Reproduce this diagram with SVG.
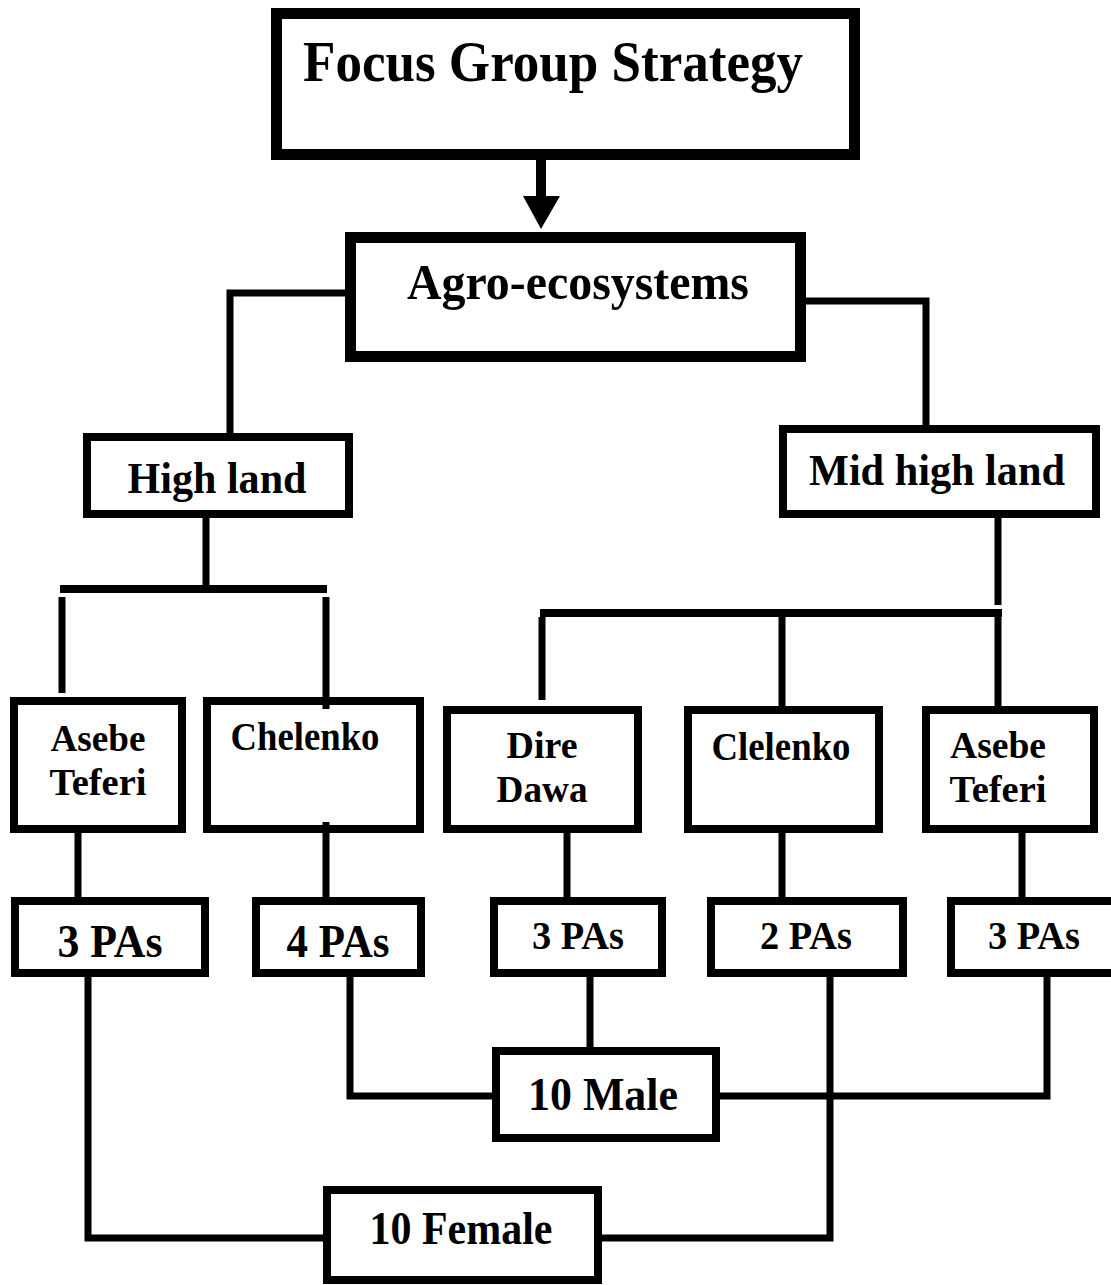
<svg xmlns="http://www.w3.org/2000/svg" width="1111" height="1285" viewBox="0 0 1111 1285">
<style>
.box{fill:#fff;stroke:#000;stroke-width:8}
.big{fill:#fff;stroke:#000;stroke-width:11}
.ln{fill:none;stroke:#000;stroke-width:7;stroke-linecap:butt;stroke-linejoin:miter}
.hl{fill:none;stroke:#000;stroke-width:8}
text{font-family:"Liberation Serif","Times New Roman",serif;font-weight:bold;fill:#000;text-anchor:middle}
</style>
<rect width="1111" height="1285" fill="#fff"/>
<g id="connectors">
<line class="ln" x1="541" y1="158" x2="541" y2="200" style="stroke-width:10"/>
<polygon points="523,196 560,196 541,229" fill="#000"/>
<path class="ln" d="M345,293 H230 V433"/>
<path class="ln" d="M806,301 H926 V425"/>
<line class="ln" x1="206" y1="518" x2="206" y2="586"/>
<line class="hl" x1="60" y1="589" x2="327" y2="589"/>
<line class="ln" x1="62" y1="597" x2="62" y2="693"/>
<line class="ln" x1="998" y1="518" x2="998" y2="605"/>
<line class="hl" x1="540" y1="613" x2="1002" y2="613"/>
<line class="ln" x1="542" y1="617" x2="542" y2="700"/>
<line class="ln" x1="782" y1="617" x2="782" y2="706"/>
<line class="ln" x1="998" y1="617" x2="998" y2="706"/>
<line class="ln" x1="78" y1="833" x2="78" y2="897"/>
<line class="ln" x1="567" y1="833" x2="567" y2="897"/>
<line class="ln" x1="782" y1="833" x2="782" y2="897"/>
<line class="ln" x1="1022" y1="833" x2="1022" y2="897"/>
<path class="ln" d="M350,977 V1096 H492"/>
<line class="ln" x1="590" y1="977" x2="590" y2="1047"/>
<path class="ln" d="M1047,977 V1096 H720"/>
<path class="ln" d="M88,977 V1238 H323"/>
<path class="ln" d="M830,977 V1238 H600"/>
</g>
<g id="focus"><rect class="big" x="276.5" y="13.5" width="578" height="141"/><text x="553" y="81" font-size="57" textLength="500" lengthAdjust="spacingAndGlyphs">Focus Group Strategy</text></g>
<g id="agro"><rect class="big" x="350.5" y="237.5" width="450" height="119"/><text x="578" y="299" font-size="50" textLength="342" lengthAdjust="spacingAndGlyphs">Agro-ecosystems</text></g>
<g id="highland"><rect class="box" x="87" y="437" width="262" height="77"/><text x="217" y="493" font-size="45" textLength="179" lengthAdjust="spacingAndGlyphs">High land</text></g>
<g id="midhighland"><rect class="box" x="783" y="429" width="313" height="85"/><text x="937" y="485" font-size="45" textLength="256" lengthAdjust="spacingAndGlyphs">Mid high land</text></g>
<g id="asebe1"><rect class="box" x="14" y="701" width="168" height="128"/><text x="98" y="751" font-size="38" textLength="95" lengthAdjust="spacingAndGlyphs">Asebe</text><text x="98" y="795" font-size="38" textLength="97" lengthAdjust="spacingAndGlyphs">Teferi</text></g>
<g id="chelenko"><rect class="box" x="207" y="701" width="213" height="128"/><text x="305" y="750" font-size="41" textLength="149" lengthAdjust="spacingAndGlyphs">Chelenko</text></g>
<g id="diredawa"><rect class="box" x="447" y="710" width="191" height="119"/><text x="542" y="758" font-size="38" textLength="71" lengthAdjust="spacingAndGlyphs">Dire</text><text x="542" y="802" font-size="38" textLength="91" lengthAdjust="spacingAndGlyphs">Dawa</text></g>
<g id="clelenko"><rect class="box" x="688" y="710" width="191" height="119"/><text x="781" y="760" font-size="41" textLength="139" lengthAdjust="spacingAndGlyphs">Clelenko</text></g>
<g id="asebe2"><rect class="box" x="926" y="710" width="168" height="119"/><text x="998" y="758" font-size="38" textLength="96" lengthAdjust="spacingAndGlyphs">Asebe</text><text x="998" y="802" font-size="38" textLength="97" lengthAdjust="spacingAndGlyphs">Teferi</text></g>
<g id="conn-notch"><line class="ln" x1="326" y1="597" x2="326" y2="709"/><line class="ln" x1="326" y1="822" x2="326" y2="897"/></g>
<g id="pa1"><rect class="box" x="15" y="901" width="190" height="72"/><text x="110" y="957" font-size="46" textLength="105" lengthAdjust="spacingAndGlyphs">3 PAs</text></g>
<g id="pa2"><rect class="box" x="256" y="901" width="165" height="72"/><text x="338" y="957" font-size="46" textLength="103" lengthAdjust="spacingAndGlyphs">4 PAs</text></g>
<g id="pa3"><rect class="box" x="494" y="901" width="168" height="72"/><text x="578" y="949" font-size="40" textLength="92" lengthAdjust="spacingAndGlyphs">3 PAs</text></g>
<g id="pa4"><rect class="box" x="711" y="901" width="192" height="72"/><text x="806" y="949" font-size="40" textLength="92" lengthAdjust="spacingAndGlyphs">2 PAs</text></g>
<g id="pa5"><rect class="box" x="951" y="901" width="170" height="72"/><text x="1034" y="949" font-size="40" textLength="92" lengthAdjust="spacingAndGlyphs">3 PAs</text></g>
<g id="male"><rect class="box" x="496" y="1051" width="220" height="87"/><text x="603" y="1110" font-size="46" textLength="150" lengthAdjust="spacingAndGlyphs">10 Male</text></g>
<g id="female"><rect class="box" x="327" y="1190" width="271" height="90"/><text x="461" y="1244" font-size="46" textLength="183" lengthAdjust="spacingAndGlyphs">10 Female</text></g>
</svg>
